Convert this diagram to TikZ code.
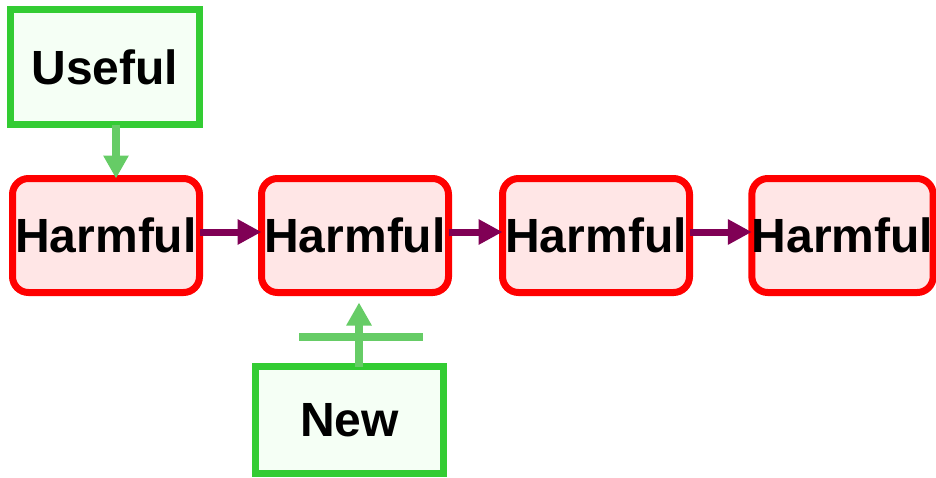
\documentclass[tikz,border=0pt]{standalone}
\usepackage{fontspec}
\setmainfont{Liberation Sans}
\usetikzlibrary{arrows.meta,calc}
\definecolor{gborder}{RGB}{51,204,51}
\definecolor{gfill}{RGB}{245,255,245}
\definecolor{hred}{RGB}{255,0,0}
\definecolor{hfill}{RGB}{255,230,230}
\definecolor{garrow}{RGB}{102,204,102}
\definecolor{parrow}{RGB}{128,0,85}
\begin{document}
\begin{tikzpicture}[x=1pt,y=-1pt,
  bigtext/.style={font=\fontsize{48}{50}\selectfont\bfseries},
  harmbox/.style={bigtext, draw=hred, fill=hfill, line width=7pt, rounded corners=16pt,
    minimum width=187pt, minimum height=114pt, inner sep=0pt, outer sep=0pt},
  goodbox/.style={bigtext, draw=gborder, fill=gfill, line width=7pt,
    minimum width=189pt, inner sep=0pt, outer sep=0pt},
  chainarrow/.style={draw=parrow, line width=7pt, -{Triangle[length=24pt,width=24pt]}},
  greenarrow/.style={draw=garrow, line width=8pt, -{Triangle[length=23pt,width=24pt]}},
  greenbar/.style={draw=garrow, line width=8pt}
]
\useasboundingbox (0,0) rectangle (936,477);
\node[goodbox, minimum height=115pt] (useful) at (105,67) {Useful};
\node[harmbox] (h1) at (106,235.5) {Harmful};
\node[harmbox] (h2) at (355,235.5) {Harmful};
\node[harmbox] (h3) at (596,235.5) {Harmful};
\node[harmbox, minimum width=178pt] (h4) at (842.5,235.5) {Harmful};
\node[goodbox, minimum width=188pt, minimum height=107pt] (new) at (349.5,420) {New};
\draw[chainarrow] ([yshift=3.5pt]h1.east) -- ([yshift=3.5pt]h2.west);
\draw[chainarrow] ([yshift=3.5pt]h2.east) -- ([yshift=3.5pt]h3.west);
\draw[chainarrow] ([yshift=3.5pt]h3.east) -- ([yshift=3.5pt]h4.west);
\draw[greenarrow] ([xshift=11pt]useful.south) -- ([xshift=10pt]h1.north);
\coordinate (barl) at (299,337);
\coordinate (barr) at (423,337);
\draw[greenbar] (barl) -- (barr);
\draw[greenarrow, shorten >=10pt] ([xshift=9.5pt]new.north) -- ([xshift=9.5pt]new.north |- h2.south);
\end{tikzpicture}
\end{document}
